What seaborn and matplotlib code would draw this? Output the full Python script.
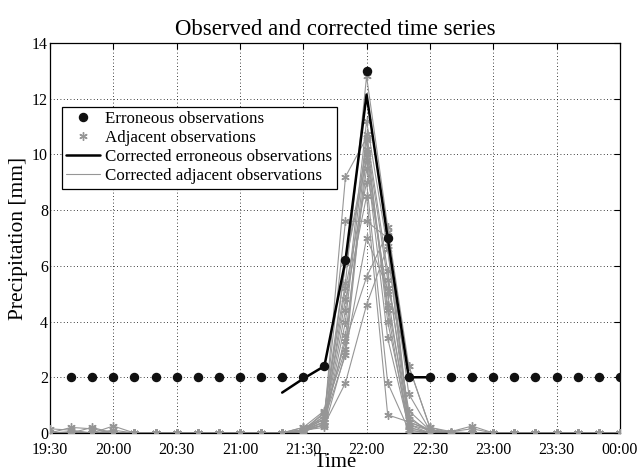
import numpy as np
import pandas as pd
import matplotlib
matplotlib.use("Agg")
import matplotlib.pyplot as plt
import matplotlib.dates as mdates
from matplotlib.lines import Line2D
import seaborn as sns

# time axis: 10 min steps from 19:30 to 00:00
times = pd.date_range("2000-01-01 19:30", "2000-01-02 00:00", freq="10min")

# erroneous observations (black dots), first one at 19:40
err_values = [np.nan, 2, 2, 2, 2, 2, 2, 2, 2, 2, 2, 2, 2, 2.4, 6.2, 13.0, 7.0, 2.0,
              2, 2, 2, 2, 2, 2, 2, 2, 2, 2]

# corrected erroneous observations 21:20 .. 22:30
corr_err_times = pd.date_range("2000-01-01 21:20", "2000-01-01 22:30", freq="10min")
corr_err_values = [1.45, 1.95, 2.4, 6.2, 12.15, 7.0, 2.0, 2.0]

# adjacent stations (corrected), one list per station
z = 0.0
adjacent = [
    [0.15, 0.1, z, z, z, z, z, z, z, z, z, z, 0.1, 0.5, 9.2, 10.6, 4.0, 0.3, 0.1, z, z, z, z, z, z, z, z, z],
    [z, z, z, 0.1, z, z, z, z, z, z, z, z, 0.1, 0.6, 7.6, 7.6, 7.0, 1.4, 0.1, z, z, z, z, z, z, z, z, z],
    [z, 0.2, 0.15, z, z, z, z, z, z, z, z, z, 0.2, 0.8, 5.4, 12.8, 7.4, 2.4, 0.2, 0.05, z, z, z, z, z, z, z, z],
    [z, z, z, z, z, z, z, z, z, z, z, z, 0.1, 0.4, 4.4, 11.2, 6.6, 0.5, 0.1, 0.05, 0.25, z, z, z, z, z, z, z],
    [z, z, 0.2, z, z, z, z, z, z, z, z, z, 0.05, 0.3, 4.0, 10.75, 5.8, 0.2, z, z, z, z, z, z, z, z, z, z],
    [z, z, z, 0.25, z, z, z, z, z, z, z, z, 0.1, 0.75, 3.0, 10.5, 5.5, 0.8, 0.1, z, z, z, z, z, z, z, z, z],
    [z, z, z, z, z, z, z, z, z, z, z, z, 0.1, 0.5, 2.8, 10.0, 4.4, z, z, 0.05, 0.15, z, z, z, z, z, z, z],
    [z, z, z, z, z, z, z, z, z, z, z, z, 0.05, 0.3, 1.8, 4.6, 6.7, 0.3, z, z, z, z, z, z, z, z, z, z],
    [z, z, z, z, z, z, z, z, z, z, z, z, 0.1, 0.6, 3.3, 5.6, 7.2, 0.4, 0.1, z, z, z, z, z, z, z, z, z],
    [z, 0.05, z, z, z, z, z, z, z, z, z, z, 0.1, 0.3, 6.1, 9.8, 3.4, 0.2, z, z, z, z, z, z, z, z, z, z],
    [z, z, z, z, z, z, z, z, z, z, z, z, 0.1, 0.4, 5.2, 9.0, 1.8, 0.1, z, z, z, z, z, z, z, z, z, z],
    [z, z, z, z, z, z, z, z, z, z, z, z, 0.2, 0.5, 4.8, 8.5, 0.65, 0.4, 0.1, z, z, z, z, z, z, z, z, z],
    [z, z, z, z, z, z, z, z, z, z, z, z, 0.1, 0.2, 2.9, 7.0, 5.2, 2.4, 0.2, z, z, z, z, z, z, z, z, z],
    [z, z, z, z, z, z, z, z, z, z, z, z, 0.1, 0.7, 6.1, 10.2, 4.6, 0.6, z, z, z, z, z, z, z, z, z, z],
    [z, z, z, z, z, z, z, z, z, z, z, z, 0.05, 0.4, 3.5, 9.5, 5.0, 0.1, z, z, z, z, z, z, z, z, z, z],
]

adj_df = pd.DataFrame(
    [(s, t, v) for s, vals in enumerate(adjacent) for t, v in zip(times, vals)],
    columns=["station", "time", "value"],
)
err_df = pd.DataFrame({"time": times, "value": err_values}).dropna()
corr_df = pd.DataFrame({"time": corr_err_times, "value": corr_err_values})

sns.set_style("white")
plt.rcParams["font.family"] = ["Liberation Serif", "DejaVu Serif"]
plt.rcParams["text.color"] = "black"
plt.rcParams["axes.labelcolor"] = "black"

fig = plt.figure(figsize=(6.41, 4.73), dpi=100)
ax = fig.add_axes([0.078, 0.0846, 0.889, 0.8245])

gray = "#969696"
asterisk = (6, 2, 0)

# corrected adjacent lines
sns.lineplot(data=adj_df, x="time", y="value", units="station", estimator=None,
             color=gray, lw=0.8, ax=ax, legend=False)
# adjacent observation markers
ax.plot(adj_df["time"], adj_df["value"], ls="none", marker=asterisk, ms=6,
        mec=gray, mew=1.0, color=gray, zorder=3)
# corrected erroneous line
sns.lineplot(data=corr_df, x="time", y="value", color="black", lw=1.8, ax=ax, zorder=4)
# erroneous observations
ax.plot(err_df["time"], err_df["value"], ls="none", marker="o", ms=5.8,
        color="#111111", zorder=5)

ax.set_xlim(times[0], times[-1])
ax.set_ylim(0, 14)
ax.set_yticks(range(0, 15, 2))
ax.xaxis.set_major_locator(mdates.MinuteLocator(byminute=[0, 30]))
ax.xaxis.set_major_formatter(mdates.DateFormatter("%H:%M"))

ax.grid(True, ls=(0, (1, 3)), color="black", lw=0.6)
ax.tick_params(direction="in", top=True, right=True, length=4, width=0.8,
               labelsize=11.5, colors="black")
ax.tick_params(axis="x", pad=6.5)
ax.tick_params(axis="y", pad=1.5)
for sp in ax.spines.values():
    sp.set_color("black")
    sp.set_linewidth(0.9)

ax.set_xlabel("Time", fontsize=15, labelpad=-3.5)
ax.set_ylabel("Precipitation [mm]", fontsize=15.5, labelpad=3)
ax.set_title("Observed and corrected time series", fontsize=16.4, pad=6)

handles = [
    Line2D([], [], ls="none", marker="o", ms=5.8, color="#111111"),
    Line2D([], [], ls="none", marker=asterisk, ms=6, mec=gray, mew=1.0, color=gray),
    Line2D([], [], color="black", lw=1.8),
    Line2D([], [], color=gray, lw=0.8),
]
labels = ["Erroneous observations", "Adjacent observations",
          "Corrected erroneous observations", "Corrected adjacent observations"]
leg = ax.legend(handles, labels, loc="upper left", bbox_to_anchor=(0.021, 0.836),
                fontsize=12.2, frameon=True, fancybox=False, shadow=False,
                borderaxespad=0, handlelength=2.0, handletextpad=0.3,
                labelspacing=0.18, borderpad=0.25)
leg.get_frame().set_edgecolor("black")
leg.get_frame().set_linewidth(0.9)
leg.get_frame().set_alpha(1)

fig.savefig("out.png", dpi=100)
